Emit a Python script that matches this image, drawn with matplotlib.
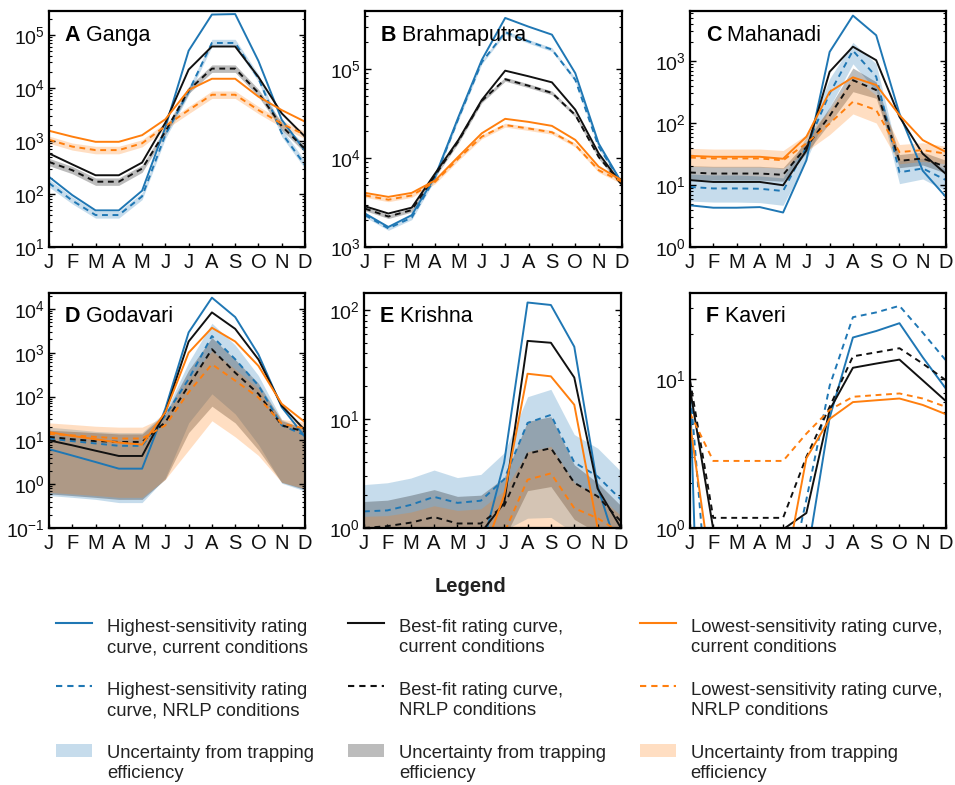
import numpy as np
import matplotlib
matplotlib.use('Agg')
import matplotlib.pyplot as plt
from matplotlib.lines import Line2D
from matplotlib.patches import Patch, Rectangle
from matplotlib.legend_handler import HandlerLine2D, HandlerPatch
from matplotlib.ticker import LogLocator, NullFormatter

plt.rcParams['font.family'] = ['Liberation Sans', 'DejaVu Sans']

MONTHS = ['J', 'F', 'M', 'A', 'M', 'J', 'J', 'A', 'S', 'O', 'N', 'D']

# ---------------- A Ganga ----------------
GANGA_HI_CUR = [210, 95, 49, 49, 115, 1800, 50000, 240000, 245000, 32000, 2500, 650]
GANGA_HI_NRLP = [160, 75, 40, 40, 90, 1300, 8500, 70000, 70000, 15000, 1400, 350]
GANGA_HI_BAND_LO = [135, 65, 35, 35, 78, 1100, 7300, 60000, 60000, 13000, 1200, 300]
GANGA_HI_BAND_UP = [190, 88, 47, 47, 105, 1550, 10000, 82000, 82000, 18000, 1700, 420]
GANGA_BF_CUR = [580, 360, 225, 225, 390, 2200, 22000, 60000, 60000, 16000, 3300, 1200]
GANGA_BF_NRLP = [400, 280, 170, 170, 300, 1500, 9000, 23000, 23000, 8000, 1900, 700]
GANGA_BF_BAND_LO = [340, 240, 145, 145, 255, 1300, 7800, 19500, 19500, 6800, 1600, 600]
GANGA_BF_BAND_UP = [470, 330, 200, 200, 350, 1750, 10500, 27000, 27000, 9400, 2250, 820]
GANGA_LO_CUR = [1550, 1200, 960, 960, 1280, 2550, 9100, 14800, 14800, 6800, 3800, 2300]
GANGA_LO_NRLP = [1050, 780, 670, 670, 900, 1900, 3800, 7400, 7400, 3800, 2100, 1300]
GANGA_LO_BAND_LO = [900, 670, 570, 570, 770, 1650, 3250, 6300, 6300, 3250, 1800, 1100]
GANGA_LO_BAND_UP = [1230, 910, 790, 790, 1050, 2200, 4450, 8700, 8700, 4450, 2450, 1500]

# ---------------- B Brahmaputra ----------------
BRAH_HI_CUR = [2380, 1680, 2280, 6200, 29000, 127000, 376000, 300000, 244000, 90000, 14600, 5200]
BRAH_HI_NRLP = [2280, 1620, 2140, 6000, 28000, 120000, 260000, 205000, 166000, 76000, 13400, 5200]
BRAH_HI_BAND_LO = [2170, 1540, 2030, 5700, 26600, 114000, 247000, 195000, 158000, 72000, 12700, 4950]
BRAH_HI_BAND_UP = [2400, 1700, 2250, 6300, 29400, 126000, 273000, 215000, 174000, 80000, 14100, 5450]
BRAH_BF_CUR = [2870, 2380, 2770, 6700, 16000, 45000, 96000, 83000, 71000, 35000, 11300, 5000]
BRAH_BF_NRLP = [2700, 2200, 2600, 6400, 15500, 44000, 77000, 65000, 54000, 30500, 10300, 5000]
BRAH_BF_BAND_LO = [2560, 2090, 2470, 6100, 14700, 41800, 73000, 61800, 51300, 29000, 9800, 4750]
BRAH_BF_BAND_UP = [2840, 2310, 2730, 6700, 16300, 46200, 81000, 68300, 56700, 32000, 10800, 5250]
BRAH_LO_CUR = [4060, 3660, 4060, 5600, 10400, 19000, 27600, 25500, 23000, 16000, 8000, 5600]
BRAH_LO_NRLP = [3800, 3400, 3800, 5400, 9900, 17400, 23500, 21500, 19500, 14000, 7300, 5400]
BRAH_LO_BAND_LO = [3610, 3230, 3610, 5130, 9400, 16500, 22300, 20400, 18500, 13300, 6900, 5130]
BRAH_LO_BAND_UP = [3990, 3570, 3990, 5670, 10400, 18300, 24700, 22600, 20500, 14700, 7700, 5670]

# ---------------- C Mahanadi ----------------
MAHA_HI_CUR = [4.7, 4.3, 4.3, 4.4, 3.6, 25, 1400, 5400, 2600, 142, 17, 6.4]
MAHA_HI_NRLP = [9.3, 8.8, 8.8, 8.7, 8.0, 41, 300, 1470, 560, 16, 18.5, 12]
MAHA_HI_BAND_LO = [5.5, 5.3, 5.3, 5.2, 4.7, 25, 180, 900, 330, 10.5, 12.5, 8]
MAHA_HI_BAND_UP = [15, 14.5, 14.5, 14, 13, 60, 520, 2000, 900, 25, 27, 18]
MAHA_BF_CUR = [12, 11.2, 11.2, 11.2, 9.9, 36, 670, 1700, 1030, 126, 32, 15]
MAHA_BF_NRLP = [15.9, 15.3, 15.3, 15.3, 14.6, 41, 130, 490, 340, 24.5, 26.8, 19.6]
MAHA_BF_BAND_LO = [12.5, 12, 12, 12, 11.5, 33, 100, 320, 250, 19, 21, 15.5]
MAHA_BF_BAND_UP = [20.5, 20, 20, 20, 19, 50, 180, 770, 460, 31, 34, 25]
MAHA_LO_CUR = [29.5, 28.5, 28.5, 28.5, 26.5, 60, 318, 545, 410, 134, 53, 34]
MAHA_LO_NRLP = [27.7, 26.8, 26.8, 26.8, 25, 47, 98, 220, 162, 34, 36.5, 32]
MAHA_LO_BAND_LO = [20, 19.5, 19.5, 19.5, 18.5, 35, 65, 140, 100, 22, 24, 22]
MAHA_LO_BAND_UP = [39, 38, 38, 38, 36, 65, 160, 560, 280, 45, 48, 42]

# ---------------- D Godavari ----------------
GODA_HI_CUR = [6.3, 4.5, 3.2, 2.26, 2.26, 53, 2900, 18000, 6500, 910, 57, 12]
GODA_HI_NRLP = [11, 9.6, 8.5, 7.5, 7.5, 37, 250, 2400, 710, 178, 22, 13]
GODA_HI_BAND_LO = [0.55, 0.5, 0.45, 0.38, 0.38, 1.4, 25, 115, 40, 8, 1.05, 0.7]
GODA_HI_BAND_UP = [20, 18, 16, 15, 15, 45, 600, 4700, 1500, 300, 30, 17]
GODA_BF_CUR = [10, 7.7, 5.8, 4.4, 4.4, 44, 1800, 8300, 3500, 700, 62, 17]
GODA_BF_NRLP = [12, 10.6, 9.6, 9.2, 9.2, 26, 178, 1200, 350, 115, 22, 15.7]
GODA_BF_BAND_LO = [0.6, 0.55, 0.5, 0.45, 0.45, 1.3, 15, 60, 25, 6, 1.1, 0.75]
GODA_BF_BAND_UP = [17, 16, 15, 14, 14, 40, 400, 2200, 700, 200, 28, 19]
GODA_LO_CUR = [15.4, 12.6, 10.6, 8.9, 8.0, 44, 1000, 3700, 1800, 500, 68, 26]
GODA_LO_NRLP = [14, 13, 12, 11, 11, 22, 125, 545, 230, 95, 24, 18.6]
GODA_LO_BAND_LO = [0.65, 0.6, 0.55, 0.5, 0.5, 1.3, 6, 28, 12, 4.5, 1.1, 0.8]
GODA_LO_BAND_UP = [25, 23, 21, 20, 20, 35, 250, 1100, 420, 150, 30, 26]

# ---------------- E Krishna ----------------
KRIS_HI_CUR = [0.3, 0.3, 0.3, 0.3, 0.3, 0.6, 4.0, 117, 111, 46, 2.4, 0.5]
KRIS_HI_NRLP = [1.42, 1.45, 1.63, 1.93, 1.7, 1.78, 2.8, 9.2, 10.9, 4.0, 2.97, 1.82]
KRIS_HI_BAND_LO = [0.6, 0.6, 0.65, 0.7, 0.65, 0.7, 0.95, 1.23, 1.25, 0.9, 0.8, 0.7]
KRIS_HI_BAND_UP = [2.5, 2.6, 2.87, 3.4, 2.9, 3.1, 4.9, 16, 18.7, 7.2, 5.4, 3.3]
KRIS_BF_CUR = [0.3, 0.3, 0.3, 0.3, 0.4, 0.9, 1.7, 52, 50, 24, 2.3, 1.0]
KRIS_BF_NRLP = [1.0, 1.04, 1.12, 1.26, 1.1, 1.1, 1.6, 4.8, 5.4, 2.6, 1.95, 1.15]
KRIS_BF_BAND_LO = [0.4, 0.4, 0.45, 0.5, 0.45, 0.5, 0.8, 2.2, 2.4, 1.2, 0.9, 0.6]
KRIS_BF_BAND_UP = [1.75, 1.8, 2.0, 2.25, 1.95, 2.0, 2.9, 9.5, 10.5, 3.8, 2.6, 1.6]
KRIS_LO_CUR = [0.2, 0.2, 0.2, 0.2, 0.2, 0.5, 2.0, 26, 24.6, 13.5, 1.0, 0.5]
KRIS_LO_NRLP = [0.6, 0.6, 0.65, 0.7, 0.65, 0.7, 0.9, 2.77, 3.17, 1.52, 1.23, 0.9]
KRIS_LO_BAND_LO = [0.2, 0.2, 0.2, 0.2, 0.2, 0.3, 0.5, 0.9, 0.9, 0.5, 0.4, 0.3]
KRIS_LO_BAND_UP = [1.28, 1.3, 1.4, 1.6, 1.45, 1.5, 2.2, 5.0, 5.6, 2.6, 2.0, 1.3]

# ---------------- F Kaveri ----------------
KAVE_HI_CUR = [8.4, 1e-4, 1e-4, 1e-4, 0.05, 0.6, 5.5, 19, 21, 23.7, 14, 8.6]
KAVE_HI_NRLP = [8.8, 0.11, 0.05, 0.05, 0.3, 1.55, 9.0, 26, 28, 31, 20.5, 13.3]
KAVE_BF_CUR = [8.6, 0.98, 0.9, 0.9, 0.98, 1.26, 6.2, 11.9, 12.7, 13.5, 9.8, 7.1]
KAVE_BF_NRLP = [9.8, 1.17, 1.17, 1.17, 1.17, 3.0, 6.5, 14.2, 15.1, 16.1, 12.7, 9.8]
KAVE_LO_CUR = [5.0, 0.4, 0.3, 0.3, 0.43, 2.94, 5.4, 7.0, 7.2, 7.4, 6.7, 5.8]
KAVE_LO_NRLP = [5.9, 2.82, 2.82, 2.82, 2.82, 4.3, 6.2, 7.6, 7.8, 8.0, 7.4, 6.5]

BLUE = '#1f77b4'
BLACK = '#111111'
ORANGE = '#ff7f0e'
A_BLUE, A_GRAY, A_ORANGE = 0.25, 0.28, 0.25

panels = [
    dict(letter='A', name='Ganga', ylim=(10, 2.8e5),
         lines=[GANGA_HI_CUR, GANGA_HI_NRLP, GANGA_BF_CUR, GANGA_BF_NRLP, GANGA_LO_CUR, GANGA_LO_NRLP],
         bands=[(GANGA_HI_BAND_LO, GANGA_HI_BAND_UP), (GANGA_BF_BAND_LO, GANGA_BF_BAND_UP),
                (GANGA_LO_BAND_LO, GANGA_LO_BAND_UP)]),
    dict(letter='B', name='Brahmaputra', ylim=(1e3, 4.5e5),
         lines=[BRAH_HI_CUR, BRAH_HI_NRLP, BRAH_BF_CUR, BRAH_BF_NRLP, BRAH_LO_CUR, BRAH_LO_NRLP],
         bands=[(BRAH_HI_BAND_LO, BRAH_HI_BAND_UP), (BRAH_BF_BAND_LO, BRAH_BF_BAND_UP),
                (BRAH_LO_BAND_LO, BRAH_LO_BAND_UP)]),
    dict(letter='C', name='Mahanadi', ylim=(1, 6.4e3),
         lines=[MAHA_HI_CUR, MAHA_HI_NRLP, MAHA_BF_CUR, MAHA_BF_NRLP, MAHA_LO_CUR, MAHA_LO_NRLP],
         bands=[(MAHA_HI_BAND_LO, MAHA_HI_BAND_UP), (MAHA_BF_BAND_LO, MAHA_BF_BAND_UP),
                (MAHA_LO_BAND_LO, MAHA_LO_BAND_UP)]),
    dict(letter='D', name='Godavari', ylim=(0.1, 2.3e4),
         lines=[GODA_HI_CUR, GODA_HI_NRLP, GODA_BF_CUR, GODA_BF_NRLP, GODA_LO_CUR, GODA_LO_NRLP],
         bands=[(GODA_HI_BAND_LO, GODA_HI_BAND_UP), (GODA_BF_BAND_LO, GODA_BF_BAND_UP),
                (GODA_LO_BAND_LO, GODA_LO_BAND_UP)]),
    dict(letter='E', name='Krishna', ylim=(1, 143),
         lines=[KRIS_HI_CUR, KRIS_HI_NRLP, KRIS_BF_CUR, KRIS_BF_NRLP, KRIS_LO_CUR, KRIS_LO_NRLP],
         bands=[(KRIS_HI_BAND_LO, KRIS_HI_BAND_UP), (KRIS_BF_BAND_LO, KRIS_BF_BAND_UP),
                (KRIS_LO_BAND_LO, KRIS_LO_BAND_UP)]),
    dict(letter='F', name='Kaveri', ylim=(1, 37.8),
         lines=[KAVE_HI_CUR, KAVE_HI_NRLP, KAVE_BF_CUR, KAVE_BF_NRLP, KAVE_LO_CUR, KAVE_LO_NRLP],
         bands=[]),
]

W, H = 955, 785
fig = plt.figure(figsize=(W / 100, H / 100), dpi=100)

boxes = [(49, 11, 305, 247), (365, 11, 622, 247), (690, 11, 946, 247),
         (49, 293, 305, 528), (364, 293, 621, 528), (690, 293, 946, 528)]

line_styles = [(BLUE, '-'), (BLUE, (0, (3, 2.4))), (BLACK, '-'), (BLACK, (0, (3, 2.4))),
               (ORANGE, '-'), (ORANGE, (0, (3, 2.4)))]
band_styles = [(BLUE, A_BLUE), (BLACK, A_GRAY), (ORANGE, A_ORANGE)]

x = np.arange(len(MONTHS))
for p, (x0, y0, x1, y1) in zip(panels, boxes):
    ax = fig.add_axes([x0 / W, 1 - y1 / H, (x1 - x0) / W, (y1 - y0) / H])
    ax.set_yscale('log')
    for (lo, up), (c, a) in zip(p['bands'], band_styles):
        ax.fill_between(x, lo, up, color=c, alpha=a, lw=0, zorder=1)
    for y, (c, ls) in zip(p['lines'], line_styles):
        ax.plot(x, y, color=c, ls=ls, lw=1.4, zorder=2)
    ax.set_xlim(0, 11)
    ax.set_ylim(*p['ylim'])
    ax.set_xticks(x)
    ax.set_xticklabels(MONTHS, fontsize=14.5, color='#111111')
    ax.tick_params(axis='x', direction='in', length=3, pad=4, width=1)
    ax.yaxis.set_major_locator(LogLocator(base=10, numticks=20))
    ax.yaxis.set_minor_locator(LogLocator(base=10, subs=np.arange(2, 10) * 1.0, numticks=20))
    ax.yaxis.set_minor_formatter(NullFormatter())
    ax.tick_params(axis='y', which='major', direction='in', left=True, right=True,
                   length=4, width=1, labelsize=14, pad=3, labelcolor='#111111')
    ax.tick_params(axis='y', which='minor', direction='in', left=True, right=True,
                   length=2.5, width=0.8)
    for s in ax.spines.values():
        s.set_linewidth(1.6)
    t = ax.text(0.062, 0.898, p['letter'], transform=ax.transAxes, fontsize=15.5,
                fontweight='bold', va='center', ha='left', zorder=5)
    ax.annotate(' ' + p['name'], xy=(1, 0.5), xycoords=t, va='center', ha='left',
                fontsize=15.5, zorder=5)

# ---------------- Legend ----------------
FS = 13.3
LINE_SHIFT = 0.8 * FS


class UpLine(HandlerLine2D):
    def create_artists(self, legend, orig_handle, xdescent, ydescent, width, height,
                       fontsize, trans):
        arts = super().create_artists(legend, orig_handle, xdescent, ydescent, width,
                                      height, fontsize, trans)
        for a in arts:
            a.set_ydata(np.asarray(a.get_ydata()) + LINE_SHIFT)
        return arts


def up_patch(legend, orig_handle, xdescent, ydescent, width, height, fontsize):
    return Rectangle(xy=(-xdescent, -ydescent + LINE_SHIFT - 0.08 * fontsize),
                     width=width, height=height)


handles = [
    Line2D([], [], color=BLUE, lw=1.5),
    Line2D([], [], color=BLUE, lw=1.5, ls=(0, (3, 2.4))),
    Patch(facecolor=BLUE, alpha=A_BLUE, lw=0),
    Line2D([], [], color=BLACK, lw=1.5),
    Line2D([], [], color=BLACK, lw=1.5, ls=(0, (3, 2.4))),
    Patch(facecolor=BLACK, alpha=A_GRAY, lw=0),
    Line2D([], [], color=ORANGE, lw=1.5),
    Line2D([], [], color=ORANGE, lw=1.5, ls=(0, (3, 2.4))),
    Patch(facecolor=ORANGE, alpha=A_ORANGE, lw=0),
]
labels = [
    'Highest-sensitivity rating\ncurve, current conditions',
    'Highest-sensitivity rating\ncurve, NRLP conditions',
    'Uncertainty from trapping\nefficiency',
    'Best-fit rating curve,\ncurrent conditions',
    'Best-fit rating curve,\nNRLP conditions',
    'Uncertainty from trapping\nefficiency',
    'Lowest-sensitivity rating curve,\ncurrent conditions',
    'Lowest-sensitivity rating curve,\nNRLP conditions',
    'Uncertainty from trapping\nefficiency',
]
leg = fig.legend(handles, labels, ncol=3, loc='upper left',
                 bbox_to_anchor=(56 / W, 1 - 619 / H), frameon=False, fontsize=FS,
                 handlelength=1.95, handletextpad=0.8, columnspacing=1.85,
                 labelspacing=1.4, borderpad=0, borderaxespad=0,
                 handler_map={Line2D: UpLine(), Patch: HandlerPatch(patch_func=up_patch)})
for txt in leg.get_texts():
    txt.set_color('#222222')
    txt.set_linespacing(1.25)

fig.text(470 / W, 1 - 587 / H, 'Legend', ha='center', va='center', fontsize=14.5,
         fontweight='bold', color='#222222')

fig.savefig('out.png', dpi=100)
